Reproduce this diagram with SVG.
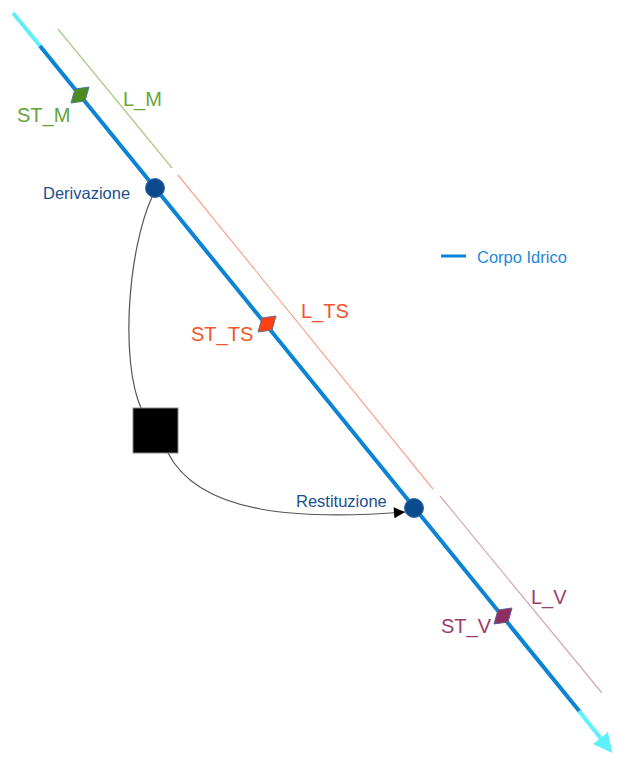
<svg xmlns="http://www.w3.org/2000/svg" width="618" height="763" viewBox="0 0 618 763">
<style>
text{font-family:"Liberation Sans",Arial,sans-serif}
.lbl{font-size:20px}
.node{font-size:16.5px;fill:#1d4f8f}
.river{fill:none;stroke:#0b84d6;stroke-width:4}
.cyan{fill:none;stroke:#5ff0fb;stroke-width:4}
.pt{fill:#0b4a8c;stroke:#3a6aa0;stroke-width:1}
.flow{fill:none;stroke:#555;stroke-width:1.2}
</style>
<defs>
<marker id="arrC" viewBox="0 0 10 10" refX="8" refY="5" markerWidth="4.8" markerHeight="4.8" orient="auto" markerUnits="strokeWidth">
<path d="M0,0 L10,5 L0,10 Z" fill="#5ff0fb"/>
</marker>
<marker id="arrK" viewBox="0 0 10 10" refX="10" refY="5" markerWidth="15" markerHeight="11" orient="auto" markerUnits="userSpaceOnUse">
<path d="M0,0 L10,5 L0,10 Z" fill="#000"/>
</marker>
</defs>
<g id="reaches">
<line x1="58" y1="29" x2="172" y2="168" stroke="#a9cc86" stroke-width="1.2"/>
<line x1="178" y1="175" x2="433" y2="489" stroke="#f7a68c" stroke-width="1.2"/>
<line x1="440" y1="496" x2="602" y2="693" stroke="#d6a4bb" stroke-width="1.2"/>
</g>
<g id="corpo-idrico">
<line class="cyan" x1="13" y1="13" x2="41" y2="47"/>
<line class="river" x1="40" y1="46" x2="580" y2="712"/>
<line class="cyan" x1="579" y1="711" x2="610" y2="750" marker-end="url(#arrC)"/>
</g>
<g id="connectors">
<path class="flow" d="M152,197 C128,250 120,360 141,408"/>
<path class="flow" d="M168,453 C200,515 300,520 405,512" marker-end="url(#arrK)"/>
</g>
<g id="ST_M">
<polygon points="71,103 75,89 89,87 85,101" fill="#4b8c1f" stroke="#4f7aa0" stroke-width="1"/>
<text class="lbl" x="17" y="122" fill="#65a33a">ST_M</text>
</g>
<g id="L_M"><text class="lbl" x="123" y="106" fill="#6aa63c">L_M</text></g>
<g id="Derivazione">
<circle class="pt" cx="155" cy="188" r="9.5"/>
<text class="node" x="43" y="199">Derivazione</text>
</g>
<g id="ST_TS">
<polygon points="258,332 262,318 276,316 272,330" fill="#ff4010" stroke="#6a6a90" stroke-width="1"/>
<text class="lbl" x="191" y="341" fill="#f2552c">ST_TS</text>
</g>
<g id="L_TS"><text class="lbl" x="301" y="318" fill="#f2552c">L_TS</text></g>
<g id="centrale">
<rect x="133" y="408" width="45" height="45" fill="#000" stroke="#888" stroke-width="1"/>
</g>
<g id="Restituzione">
<circle class="pt" cx="414" cy="508" r="9.5"/>
<text class="node" x="296" y="507">Restituzione</text>
</g>
<g id="ST_V">
<polygon points="494,624 498,610 512,608 508,622" fill="#8e2f62" stroke="#6a5a90" stroke-width="1"/>
<text class="lbl" x="441" y="633" fill="#9c3d6e">ST_V</text>
</g>
<g id="L_V"><text class="lbl" x="531" y="604" fill="#9c3d6e">L_V</text></g>
<g id="legend">
<line x1="441" y1="256" x2="466" y2="256" stroke="#0b84d6" stroke-width="3"/>
<text x="477" y="263" font-size="16.5" fill="#1e88d8">Corpo Idrico</text>
</g>
</svg>
